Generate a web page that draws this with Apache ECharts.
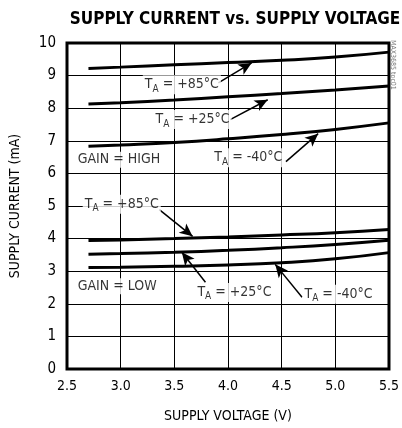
<!DOCTYPE html>
<html>
<head>
<meta charset="utf-8">
<script src="https://cdn.jsdelivr.net/npm/echarts/dist/echarts.min.js"></script>
<style>html,body{margin:0;padding:0;background:#fff}#c{width:402px;height:428px}</style>
</head>
<body>
<div id="c"></div>
<script>
const voltages = [2.7, 3.0, 3.5, 4.0, 4.5, 5.0, 5.5];
const highT85 = [9.22, 9.26, 9.33, 9.40, 9.47, 9.57, 9.72];
const highT25 = [8.13, 8.17, 8.25, 8.35, 8.45, 8.56, 8.68];
const highTm40 = [6.83, 6.87, 6.95, 7.06, 7.19, 7.35, 7.55];
const lowT85 = [3.94, 3.96, 4.00, 4.05, 4.11, 4.18, 4.28];
const lowT25 = [3.52, 3.54, 3.58, 3.64, 3.72, 3.82, 3.95];
const lowTm40 = [3.11, 3.12, 3.15, 3.19, 3.26, 3.38, 3.57];
const xTicks = [2.5, 3.0, 3.5, 4.0, 4.5, 5.0, 5.5];
const yTicks = [0, 1, 2, 3, 4, 5, 6, 7, 8, 9, 10];

const FONT = "'Liberation Sans Narrow', 'DejaVu Sans Condensed', 'Liberation Sans', sans-serif";

const curves = [highT85, highT25, highTm40, lowT85, lowT25, lowTm40];

function pairs(vals) { return voltages.map((v, i) => [v, vals[i]]); }

const rich = {
  t: { fontSize: 14, fontFamily: FONT, color: '#000', textBorderWidth: 0 },
  s: { fontSize: 10, fontFamily: FONT, color: '#000', textBorderWidth: 0, padding: [9, 0, 0, 0] }
};

const tempLabels = [
  { coord: [3.57, 8.72], text: '+85°C' },
  { coord: [3.67, 7.65], text: '+25°C' },
  { coord: [4.19, 6.48], text: '-40°C' },
  { coord: [3.01, 5.05], text: '+85°C' },
  { coord: [4.06, 2.35], text: '+25°C' },
  { coord: [5.03, 2.29], text: '-40°C' }
];
const gainLabels = [
  { coord: [2.59, 6.42], text: 'GAIN = HIGH' },
  { coord: [2.59, 2.54], text: 'GAIN = LOW' }
];
const arrows = [
  [[3.91, 8.78], [4.22, 9.39]],
  [[4.02, 7.65], [4.37, 8.26]],
  [[4.54, 6.36], [4.84, 7.22]],
  [[3.36, 4.89], [3.67, 4.07]],
  [[3.79, 2.66], [3.57, 3.58]],
  [[4.69, 2.20], [4.44, 3.21]]
];

const series = curves.map(c => ({
  type: 'line', data: pairs(c), smooth: true, showSymbol: false, silent: true,
  lineStyle: { color: '#000', width: 3 }, z: 3
}));

series.push({
  type: 'scatter', silent: true, symbolSize: 0, z: 5,
  data: tempLabels.map(l => ({ value: l.coord, text: l.text })),
  label: {
    show: true, position: 'inside', backgroundColor: '#fff', padding: [0, 2, 0, 2],
    color: '#000', textBorderWidth: 0,
    formatter: p => '{t|T}{s|A}{t| = ' + p.data.text + '}', rich: rich
  }
});
series.push({
  type: 'scatter', silent: true, symbolSize: 0, z: 5,
  data: gainLabels.map(l => ({ value: l.coord, text: l.text })),
  label: {
    show: true, position: 'right', distance: 0, backgroundColor: '#fff', padding: [1, 2, 1, 1],
    fontSize: 14, fontFamily: FONT, color: '#000', textBorderWidth: 0,
    formatter: p => p.data.text
  }
});
series.push({
  type: 'line', data: [], silent: true, z: 6,
  markLine: {
    silent: true, symbol: ['none', 'arrow'], symbolSize: [9, 13],
    label: { show: false }, emphasis: { disabled: true },
    lineStyle: { color: '#000', width: 1.5, type: 'solid' },
    data: arrows.map(a => [{ coord: a[0] }, { coord: a[1] }])
  }
});

const chart = echarts.init(document.getElementById('c'), null, { renderer: 'canvas' });
chart.setOption({
  animation: false,
  backgroundColor: '#fff',
  title: {
    text: 'SUPPLY CURRENT vs. SUPPLY VOLTAGE', left: 230, top: 6, textAlign: 'center',
    textStyle: { fontFamily: FONT, fontWeight: 'bold', fontSize: 17, color: '#000' }
  },
  grid: { left: 66, right: 9, top: 43, bottom: 58, show: true, borderColor: '#000', borderWidth: 3, backgroundColor: 'transparent' },
  xAxis: {
    type: 'value', min: xTicks[0], max: xTicks[xTicks.length - 1], interval: 0.5,
    name: 'SUPPLY VOLTAGE (V)', nameLocation: 'middle', nameGap: 40,
    nameTextStyle: { fontFamily: FONT, fontSize: 14, color: '#000' },
    axisLine: { show: false }, axisTick: { show: false },
    axisLabel: { fontFamily: FONT, fontSize: 14, color: '#000', margin: 10, formatter: v => v.toFixed(1) },
    splitLine: { show: true, lineStyle: { color: '#000', width: 1 } }
  },
  yAxis: {
    type: 'value', min: yTicks[0], max: yTicks[yTicks.length - 1], interval: 1,
    name: 'SUPPLY CURRENT (mA)', nameLocation: 'middle', nameGap: 45,
    nameTextStyle: { fontFamily: FONT, fontSize: 14, color: '#000' },
    axisLine: { show: false }, axisTick: { show: false },
    axisLabel: { fontFamily: FONT, fontSize: 15, color: '#000', margin: 11 },
    splitLine: { show: true, lineStyle: { color: '#000', width: 1 } }
  },
  graphic: [{
    type: 'text', x: 396, y: 40, rotation: -Math.PI / 2,
    style: { text: 'MAX3685 toc01', fontSize: 7, fontFamily: FONT, fill: '#777' }
  }],
  series: series
});
</script>
</body>
</html>
